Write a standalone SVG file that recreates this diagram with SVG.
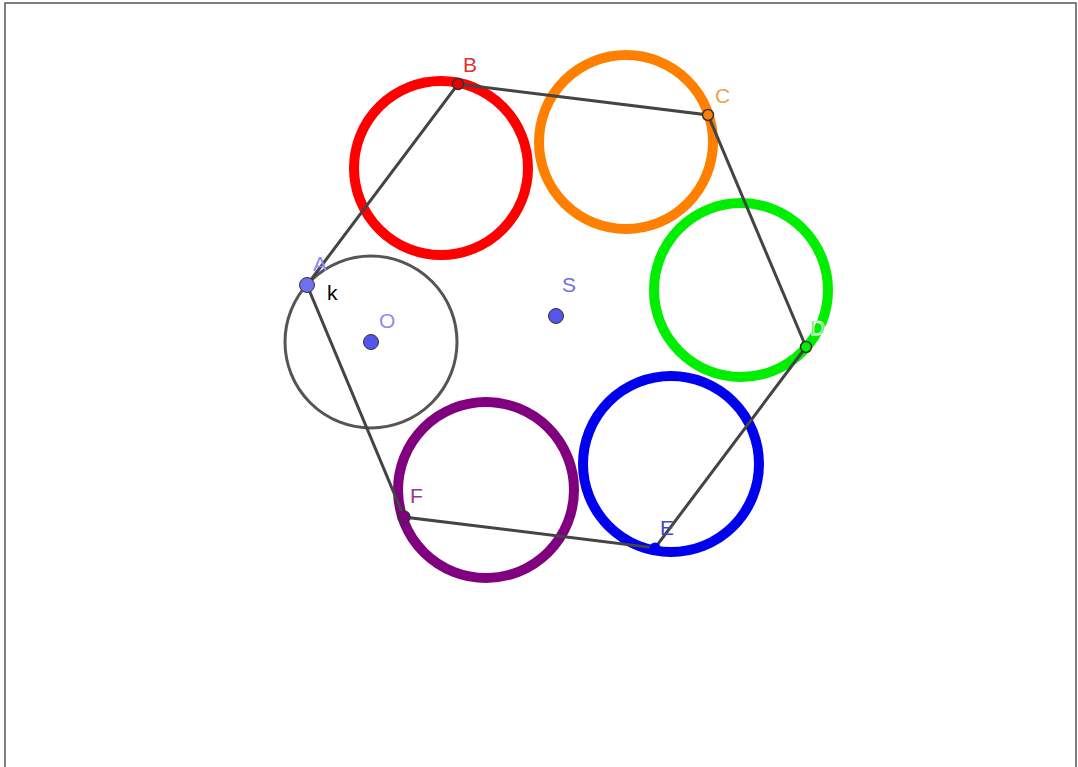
<svg xmlns="http://www.w3.org/2000/svg" width="1078" height="767" viewBox="0 0 1078 767">
<style>
.ring{fill:none;stroke-width:10}
.edge{stroke:#444;stroke-width:3;fill:none;stroke-linecap:round}
.lbl{font-family:"Liberation Sans",Arial,sans-serif;font-size:21px}
.pt{stroke:#333;stroke-width:1.5}
</style>
<rect x="0" y="0" width="1078" height="767" fill="#fff"/>
<rect x="5" y="3" width="1071" height="770" fill="none" stroke="#555" stroke-width="1.5"/>
<g id="circle-k"><circle cx="371" cy="342" r="86" fill="none" stroke="#555" stroke-width="3"/></g>
<g id="circle-B"><circle class="ring" cx="441" cy="168" r="87" stroke="#ff0000"/></g>
<g id="circle-C"><circle class="ring" cx="626" cy="142" r="87" stroke="#ff8000"/></g>
<g id="circle-D"><circle class="ring" cx="741" cy="290" r="87" stroke="#00ee00"/></g>
<g id="circle-E"><circle class="ring" cx="671" cy="464" r="88" stroke="#0000ee"/></g>
<g id="circle-F"><circle class="ring" cx="486" cy="490" r="88" stroke="#800080"/></g>
<g id="connectors">
<polygon class="edge" points="307,285 458,84 708,115 806,347 655,548 404,517"/>
</g>
<g id="point-A"><circle cx="307" cy="285" r="7.5" fill="#7070ee" stroke="#333" stroke-width="1"/><text class="lbl" x="313" y="271" fill="#8c8cf0">A</text><text class="lbl" x="327" y="300" fill="#000">k</text></g>
<g id="point-B"><circle class="pt" cx="458" cy="84" r="5.5" fill="#ee0000"/><text class="lbl" x="463" y="72" fill="#dd3333">B</text></g>
<g id="point-C"><circle class="pt" cx="708" cy="115" r="5.5" fill="#ff8000"/><text class="lbl" x="715" y="103" fill="#f0a050">C</text></g>
<g id="point-D"><circle class="pt" cx="806" cy="347" r="5.5" fill="#00ee00"/><text class="lbl" x="810" y="335" fill="#22dd22" stroke="#fff" stroke-width="0.8">D</text></g>
<g id="point-E"><circle cx="655" cy="548" r="5.5" fill="#0000ee"/><text class="lbl" x="660" y="535" fill="#4444cc">E</text></g>
<g id="point-F"><circle class="pt" cx="404" cy="517" r="6" fill="#800080"/><text class="lbl" x="410" y="503" fill="#993399">F</text></g>
<g id="point-O"><circle cx="371" cy="342" r="7.5" fill="#5555ee" stroke="#333" stroke-width="1"/><text class="lbl" x="379" y="328" fill="#8c8cf0">O</text></g>
<g id="point-S"><circle cx="556" cy="316" r="7.5" fill="#5555ee" stroke="#333" stroke-width="1"/><text class="lbl" x="562" y="292" fill="#7070dd">S</text></g>
</svg>
